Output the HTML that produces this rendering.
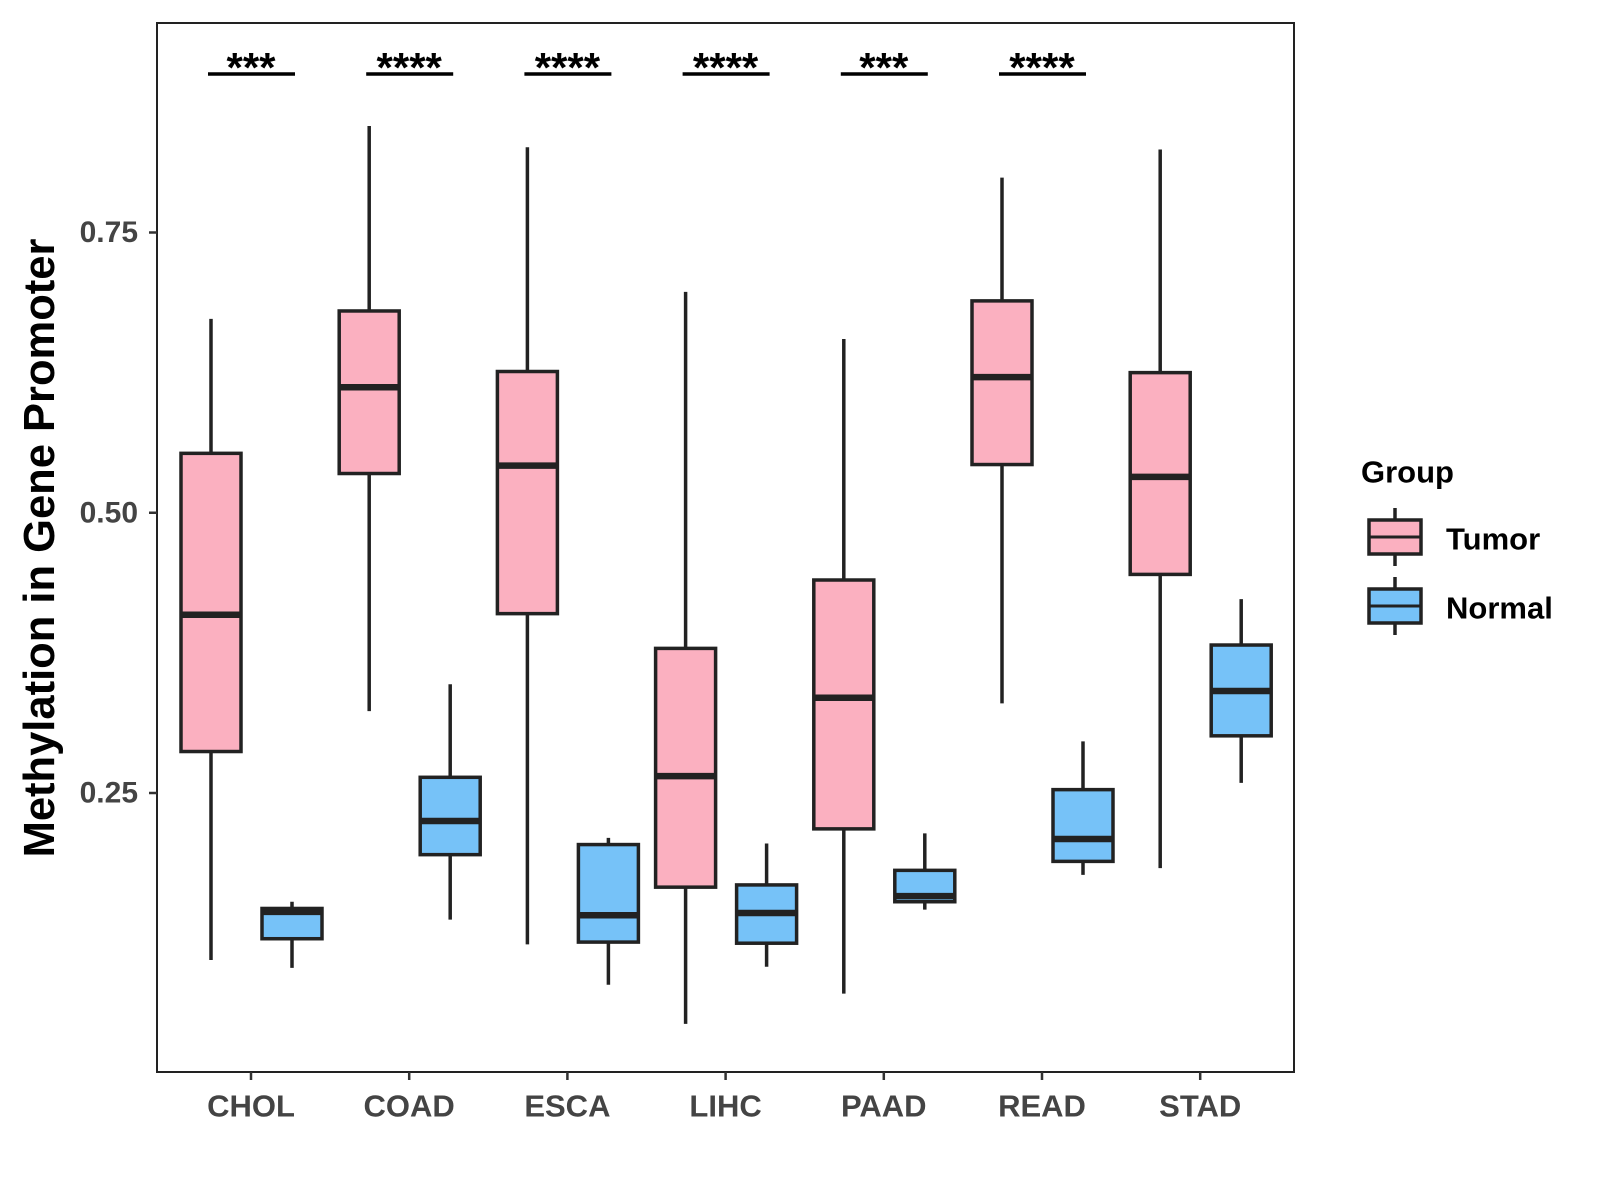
<!DOCTYPE html>
<html><head><meta charset="utf-8"><style>
html,body{margin:0;padding:0;background:#fff;}
svg{display:block;font-family:"Liberation Sans",Arial,sans-serif;}
</style></head><body>
<svg id="chart" width="1600" height="1200" viewBox="0 0 1600 1200" xmlns="http://www.w3.org/2000/svg">
<rect x="157" y="23" width="1137" height="1049" fill="#fff" stroke="#222" stroke-width="2"/>
<g id="marks"></g>
<text x="40" y="548" transform="rotate(-90 40 548)" text-anchor="middle" dominant-baseline="central" font-size="43.5" font-weight="bold" fill="#000">Methylation in Gene Promoter</text>
<text x="1361" y="472" dominant-baseline="central" font-size="31" font-weight="bold" fill="#000">Group</text>
<g>
<line x1="1395" y1="508" x2="1395" y2="566" stroke="#222" stroke-width="3.5"/>
<rect x="1369" y="520" width="52" height="34" fill="#FBB0C0" stroke="#222" stroke-width="3.5"/>
<line x1="1369" y1="537" x2="1421" y2="537" stroke="#222" stroke-width="3"/>
<text x="1446" y="539" dominant-baseline="central" font-size="31" font-weight="bold" fill="#000">Tumor</text>
</g>
<g>
<line x1="1395" y1="577" x2="1395" y2="635" stroke="#222" stroke-width="3.5"/>
<rect x="1369" y="589" width="52" height="34" fill="#76C2F8" stroke="#222" stroke-width="3.5"/>
<line x1="1369" y1="606" x2="1421" y2="606" stroke="#222" stroke-width="3"/>
<text x="1446" y="608" dominant-baseline="central" font-size="31" font-weight="bold" fill="#000">Normal</text>
</g>
</svg>
<script>
const categories = ["CHOL","COAD","ESCA","LIHC","PAAD","READ","STAD"];
const tumorLow  = [0.101,0.323,0.115,0.044,0.071,0.330,0.183];
const tumorQ1   = [0.287,0.535,0.410,0.166,0.218,0.543,0.445];
const tumorMed  = [0.409,0.612,0.542,0.265,0.335,0.621,0.532];
const tumorQ3   = [0.553,0.680,0.626,0.379,0.440,0.689,0.625];
const tumorHigh = [0.673,0.845,0.826,0.697,0.655,0.799,0.824];
const normalLow  = [0.094,0.137,0.079,0.095,0.146,0.177,0.259];
const normalQ1   = [0.120,0.195,0.117,0.116,0.153,0.189,0.301];
const normalMed  = [0.144,0.225,0.141,0.143,0.158,0.209,0.341];
const normalQ3   = [0.147,0.264,0.204,0.168,0.181,0.253,0.382];
const normalHigh = [0.153,0.347,0.210,0.205,0.214,0.296,0.423];
const significance = ["***","****","****","****","***","****",""];
const yTicks = [0.25,0.50,0.75];
const yTickLabels = ["0.25","0.50","0.75"];

const NS="http://www.w3.org/2000/svg";
const g=document.getElementById('marks');
function y(v){return 793-(v-0.25)*1121;}
function x(i){return 251+i*158.2;}
function mk(tag,attrs,parent){const e=document.createElementNS(NS,tag);for(const k in attrs)e.setAttribute(k,attrs[k]);(parent||g).appendChild(e);return e;}

yTicks.forEach((t,i)=>{
  const grp=mk('g',{});
  
  
  mk('line',{x1:149,x2:157,y1:y(t),y2:y(t),stroke:'#333','stroke-width':2.5},grp);
  const tx=mk('text',{x:138,y:y(t),'text-anchor':'end','dominant-baseline':'central','font-size':30,'font-weight':'bold',fill:'#444'},grp);
  tx.textContent=yTickLabels[i];
});

function box(cx,lo,q1,md,q3,hi,fill,name){
  const grp=mk('g',{});
  
  
  mk('line',{x1:cx,x2:cx,y1:y(hi),y2:y(lo),stroke:'#222','stroke-width':3.5},grp);
  mk('rect',{x:cx-30,width:60,y:y(q3),height:y(q1)-y(q3),fill:fill,stroke:'#222','stroke-width':3.5},grp);
  mk('line',{x1:cx-30,x2:cx+30,y1:y(md),y2:y(md),stroke:'#222','stroke-width':6.5},grp);
}

categories.forEach((c,i)=>{
  const cx=x(i);
  box(cx-40,tumorLow[i],tumorQ1[i],tumorMed[i],tumorQ3[i],tumorHigh[i],'#FBB0C0','box-tumor-'+c.toLowerCase());
  box(cx+41,normalLow[i],normalQ1[i],normalMed[i],normalQ3[i],normalHigh[i],'#76C2F8','box-normal-'+c.toLowerCase());
  const tg=mk('g',{});
  
  
  mk('line',{x1:cx,x2:cx,y1:1072,y2:1080,stroke:'#333','stroke-width':2.5},tg);
  const tx=mk('text',{x:cx,y:1106,'text-anchor':'middle','dominant-baseline':'central','font-size':31,'font-weight':'bold',fill:'#444'},tg);
  tx.textContent=c;
  if(significance[i]){
    const sg=mk('g',{});
    
    
    mk('line',{x1:cx-43,x2:cx+44,y1:74,y2:74,stroke:'#000','stroke-width':3.5},sg);
    const st=mk('text',{x:cx,y:82,'text-anchor':'middle','font-size':42,'font-weight':'bold',fill:'#000'},sg);
    st.textContent=significance[i];
  }
});
</script>
</body></html>
